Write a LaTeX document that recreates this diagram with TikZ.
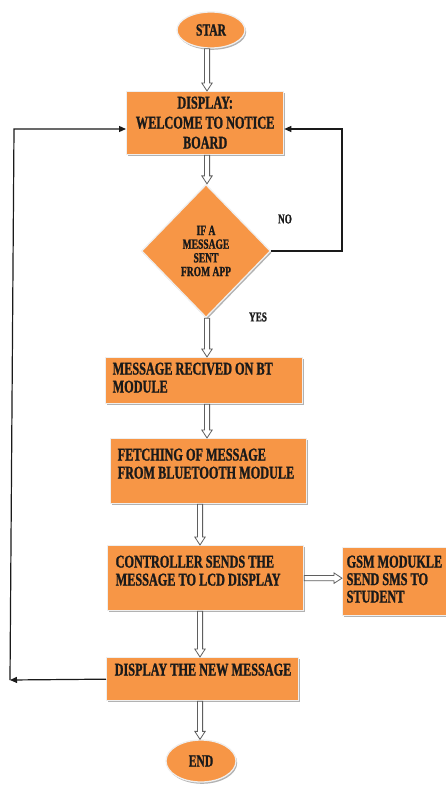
\documentclass[tikz,border=0pt]{standalone}
\usepackage{fontspec}
\newfontfamily\fc{Liberation Serif}[FakeStretch=0.68, BoldFeatures={FakeBold=1.2}]
\usetikzlibrary{shapes.geometric,arrows.meta,shadows,calc}
\definecolor{boxor}{HTML}{F79646}
\definecolor{boxedge}{HTML}{EFEFEF}
\definecolor{ink}{HTML}{1A1A1A}
\newcommand\btxt[5]{\parbox[b][#2][t]{#1}{\vspace*{#3}\raggedright\leftskip=#4\relax #5}}
\tikzset{
  shad/.style={drop shadow={shadow xshift=1.2pt, shadow yshift=-1.8pt, opacity=.3, fill=black}},
  box/.style={draw=boxedge, line width=1.3pt, fill=boxor, inner sep=0pt, anchor=north west, shad,
    text=ink, font=\fc\bfseries\fontsize{18}{18}\selectfont},
  dia/.style={diamond, draw=boxedge, line width=1.3pt, fill=boxor, inner sep=0pt, shad,
    minimum width=129pt, minimum height=133pt, text=ink,
    font=\fc\bfseries\fontsize{14}{13.7}\selectfont},
  oval/.style={ellipse, draw=boxedge, line width=1.3pt, fill=boxor, inner sep=0pt, shad,
    text=ink, font=\fc\bfseries\fontsize{17}{18}\selectfont},
  lbl/.style={text=ink, font=\fc\bfseries\fontsize{13.5}{15}\selectfont, inner sep=0pt},
  hollow/.style={draw=ink!70, line width=0.8pt, fill=white, line join=miter,
    to path={
      ($(\tikztostart)!2.6pt!90:(\tikztotarget)$)
      -- ($($(\tikztotarget)!8pt!(\tikztostart)$)!2.6pt!-90:(\tikztostart)$)
      -- ($($(\tikztotarget)!8pt!(\tikztostart)$)!5.2pt!-90:(\tikztostart)$)
      -- (\tikztotarget)
      -- ($($(\tikztotarget)!8pt!(\tikztostart)$)!5.2pt!90:(\tikztostart)$)
      -- ($($(\tikztotarget)!8pt!(\tikztostart)$)!2.6pt!90:(\tikztostart)$)
      -- ($(\tikztostart)!2.6pt!-90:(\tikztotarget)$)
      -- cycle}},
  conn/.style={draw=ink, line width=1.2pt, -{Triangle[length=7pt, width=6pt]}}
}
\begin{document}
\begin{tikzpicture}[x=1pt, y=-1pt]
\useasboundingbox[fill=white] (0,0) rectangle (446,787);
% column coordinates
\coordinate (colA) at (207,0);
\coordinate (colB) at (200,0);
\coordinate (rightx) at (342,0);
\coordinate (ltop) at (14,129);
\coordinate (lbot) at (10,680);
% nodes
\node[oval, minimum width=68pt, minimum height=36pt] (star) at (211,30) {STAR};
\node[box] (disp) at (126,91) {\fontsize{18}{20}\selectfont\btxt{157pt}{63pt}{5pt}{0pt}{\centering DISPLAY:\\WELCOME TO NOTICE\\BOARD}};
\node[dia] (dia) at (206,251) {\parbox{70pt}{\centering IF A\\MESSAGE\\SENT\\FROM APP}};
\node[box] (msg) at (105,357) {\btxt{197pt}{46pt}{5pt}{7pt}{MESSAGE RECIVED ON BT\\MODULE}};
\node[box] (fetch) at (110,438) {\btxt{196pt}{65pt}{10pt}{7pt}{FETCHING OF MESSAGE\\FROM BLUETOOTH MODULE}};
\node[box] (ctrl) at (107,545) {\btxt{196pt}{65pt}{10pt}{8pt}{CONTROLLER SENDS THE\\MESSAGE TO LCD DISPLAY}};
\node[box] (gsm) at (342,547) {\fontsize{18}{17.5}\selectfont\btxt{115pt}{68pt}{8pt}{4pt}{GSM MODUKLE\\SEND SMS TO\\STUDENT}};
\node[box] (dnm) at (106,657) {\btxt{192pt}{43pt}{6pt}{8pt}{DISPLAY THE NEW MESSAGE}};
\node[oval, minimum width=70pt, minimum height=42pt] (end) at (201,761) {END};
\node[lbl] (no) at (285,219) {NO};
\node[lbl] (yes) at (258,317) {YES};
% hollow arrows
\draw[hollow] (star.south -| colA) to (disp.north -| colA);
\draw[hollow] (disp.south -| colA) to (dia.north -| colA);
\draw[hollow] (dia.south -| colA) to (msg.north -| colA);
\draw[hollow] (msg.south -| colA) to (fetch.north -| colA);
\draw[hollow] (fetch.south -| colB) to (ctrl.north -| colB);
\draw[hollow] (ctrl.east) to (gsm.west |- ctrl.east);
\draw[hollow] (ctrl.south -| colB) to (dnm.north -| colB);
\draw[hollow] (dnm.south -| colB) to (end.north -| colB);
% thin connectors
\draw[conn] (dia.east) -- (dia.east -| rightx) -- (rightx |- ltop) -- (disp.east |- ltop);
\draw[conn] (dnm.west) -- (lbot);
\draw[conn] (lbot) -- (ltop) -- (ltop -| disp.west);
\end{tikzpicture}
\end{document}
